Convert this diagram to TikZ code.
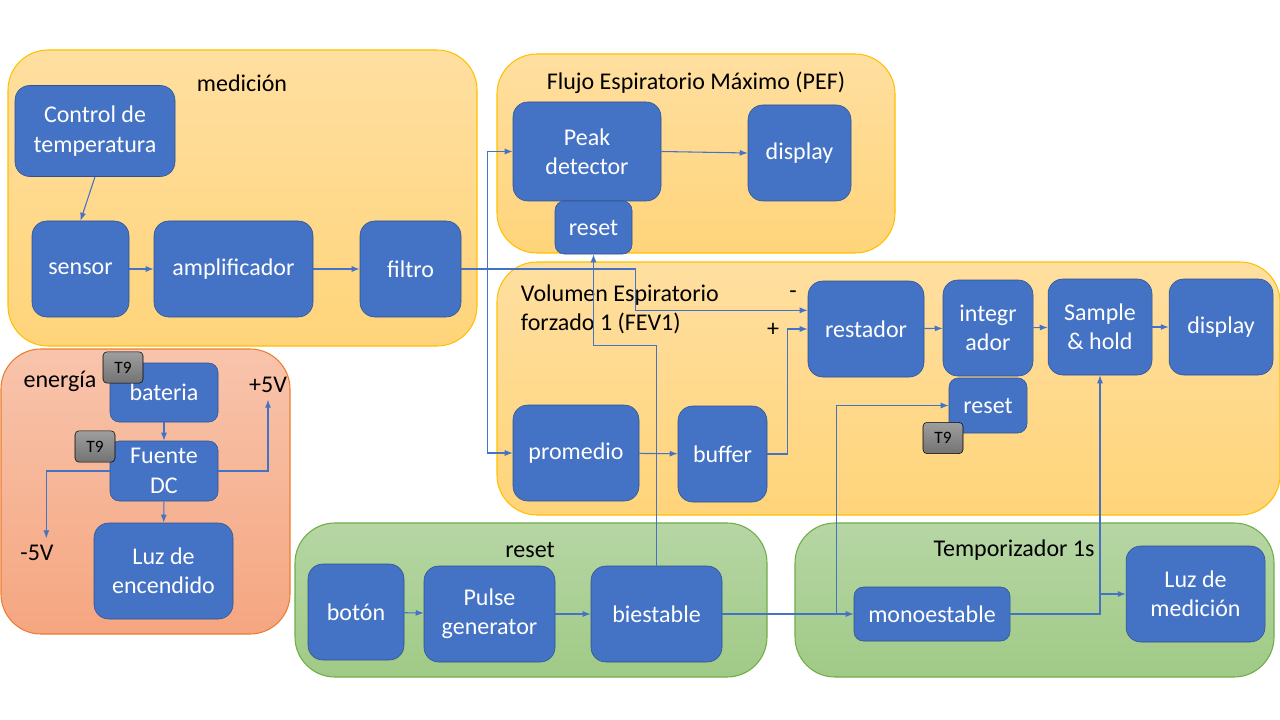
\documentclass[tikz,border=0pt]{standalone}
\usepackage{fontspec}
\setmainfont{Carlito}
\usetikzlibrary{arrows.meta}
\definecolor{azul}{RGB}{68,114,196}
\definecolor{azulborde}{RGB}{47,82,143}
\definecolor{oro}{RGB}{255,192,0}
\definecolor{oroarriba}{RGB}{255,223,160}
\definecolor{oroabajo}{RGB}{255,212,122}
\definecolor{naranja}{RGB}{237,125,49}
\definecolor{salmonarriba}{RGB}{248,196,172}
\definecolor{salmonabajo}{RGB}{245,166,128}
\definecolor{verde}{RGB}{112,173,71}
\definecolor{verdearriba}{RGB}{182,214,164}
\definecolor{verdeabajo}{RGB}{160,202,134}
\begin{document}
\begin{tikzpicture}[x=0.75pt,y=-0.75pt,>={Latex[length=6pt,width=4.5pt]},
		block/.style={rectangle,draw=azulborde,fill=azul,text=white,align=center,rounded corners=11pt,inner sep=0pt,font=\fontsize{18}{22}\selectfont},
		small/.style={rounded corners=7pt},
		tnueve/.style={rectangle,draw=black,top color=black!38,bottom color=black!55,rounded corners=3pt,inner sep=0pt,font=\fontsize{13}{15}\selectfont,minimum width=30pt,minimum height=23.5pt},
		sz/.style 2 args={minimum width=#1*0.75pt,minimum height=#2*0.75pt},
		grupo/.style={draw=oro,thick,rounded corners=30pt,top color=oroarriba,bottom color=oroabajo},
		titulo/.style={font=\fontsize{18}{22}\selectfont,inner sep=2pt},
		wire/.style={draw=azul,line width=0.8pt}]
	\useasboundingbox (0,0) rectangle (1280,720);

	\path[grupo] (8,50) rectangle (477,346);
	\path[grupo] (497,54) rectangle (895,253);
	\path[grupo] (497,262) rectangle (1280,515);
	\path[grupo,draw=naranja,top color=salmonarriba,bottom color=salmonabajo] (1,349) rectangle (290,634);
	\path[grupo,draw=verde,top color=verdearriba,bottom color=verdeabajo] (295,523) rectangle (767,677);
	\path[grupo,draw=verde,top color=verdearriba,bottom color=verdeabajo] (795,523) rectangle (1274,677);

	\node[titulo] (tmed) at (242,83) {medición};
	\node[titulo] (tpef) at (696,83) {Flujo Espiratorio Máximo (PEF)};
	\node[titulo,align=left,anchor=west] (tfev) at (518,309) {Volumen Espiratorio\\forzado 1 (FEV1)};
	\node[titulo] (tene) at (60,381) {energía};
	\node[titulo] (treset) at (530,550) {reset};
	\node[titulo] (ttemp) at (1014,550) {Temporizador 1s};

	\node[block,sz={160}{91}] (ctrl) at (95,131) {Control de\\temperatura};
	\node[block,sz={97}{96}] (sensor) at (80.5,269) {sensor};
	\node[block,sz={159}{96}] (ampli) at (233.5,269) {amplificador};
	\node[block,sz={101}{96}] (filtro) at (410.5,269) {filtro};

	\node[block,sz={148}{99}] (peak) at (587,151.5) {Peak\\detector};
	\node[block,small,sz={77}{53}] (resetpef) at (593.5,227.5) {reset};
	\node[block,sz={103}{96}] (dispef) at (799.5,153) {display};

	\node[block,sz={116}{96}] (restador) at (866,329) {restador};
	\node[block,sz={90}{96}] (integ) at (988,328) {integr\\ador};
	\node[block,sz={104}{96}] (sh) at (1100,327) {Sample\\\& hold};
	\node[block,sz={104}{96}] (disfev) at (1221,327) {display};
	\node[block,small,sz={78}{55}] (resetfev) at (988,405.5) {reset};
	\node[tnueve] (tc) at (943,438) {T9};
	\node[block,sz={126}{96}] (promedio) at (576,453) {promedio};
	\node[block,sz={89}{96}] (buffer) at (722.5,454) {buffer};
	\node[titulo] (menos) at (793,295) {-};
	\node[titulo] (mas) at (773,330) {+};

	\node[block,small,sz={108}{59}] (bateria) at (164,392.5) {bateria};
	\node[tnueve] (ta) at (123,367.5) {T9};
	\node[block,small,sz={108}{60}] (fuente) at (164,471) {Fuente\\DC};
	\node[tnueve] (tb) at (95,446.5) {T9};
	\node[block,sz={139}{96}] (luzenc) at (163.5,571) {Luz de\\encendido};
	\node[titulo] (pcinco) at (268,385) {+5V};
	\node[titulo] (mcinco) at (37,553) {-5V};

	\node[block,sz={96}{96}] (boton) at (356,612) {botón};
	\node[block,sz={131}{96}] (pulse) at (489.5,614) {Pulse\\generator};
	\node[block,sz={131}{96}] (biest) at (656.5,614) {biestable};
	\node[block,small,sz={156}{54}] (mono) at (932,614) {monoestable};
	\node[block,sz={139}{96}] (luzmed) at (1195.5,594) {Luz de\\medición};

	\draw[wire,->] (ctrl.south) -- (sensor.north);
	\draw[wire,->] (sensor) -- (ampli);
	\draw[wire,->] (ampli) -- (filtro);
	\draw[wire,->] (filtro.east) -- ++(26,0) |- (peak.west);
	\draw[wire,->] (filtro.east) -- ++(26,0) |- (promedio.west);
	\draw[wire,->] (filtro.east) -- ++(174,0) |- ([yshift=14pt]restador.west);
	\draw[wire,->] (peak.east) -- (dispef.west);
	\draw[wire,->] (promedio) -- (buffer);
	\draw[wire,->] (buffer.east) -- ++(20,0) |- (restador.west);
	\draw[wire,->] (restador) -- (integ);
	\draw[wire,->] (integ) -- (sh);
	\draw[wire,->] (sh) -- (disfev);
	\draw[wire,->] (boton) -- (pulse);
	\draw[wire,->] (pulse) -- (biest);
	\draw[wire,->] (biest.north) -- ++(0,-220) -| (resetpef.south);
	\draw[wire,->] (biest.east) -- (mono.west);
	\draw[wire,->] (biest.east) -- ++(114,0) |- (resetfev.west);
	\draw[wire,->] (mono.east) -| (sh.south);
	\draw[wire,->] (sh.south |- luzmed.west) -- (luzmed.west);
	\draw[wire,->] (bateria) -- (fuente);
	\draw[wire,->] (fuente) -- (luzenc);
	\draw[wire,->] (fuente.east) -| ([yshift=-3pt]pcinco.south);
	\draw[wire,->] (fuente.west) -| ([xshift=7pt,yshift=3pt]mcinco.north);
\end{tikzpicture}
\end{document}
